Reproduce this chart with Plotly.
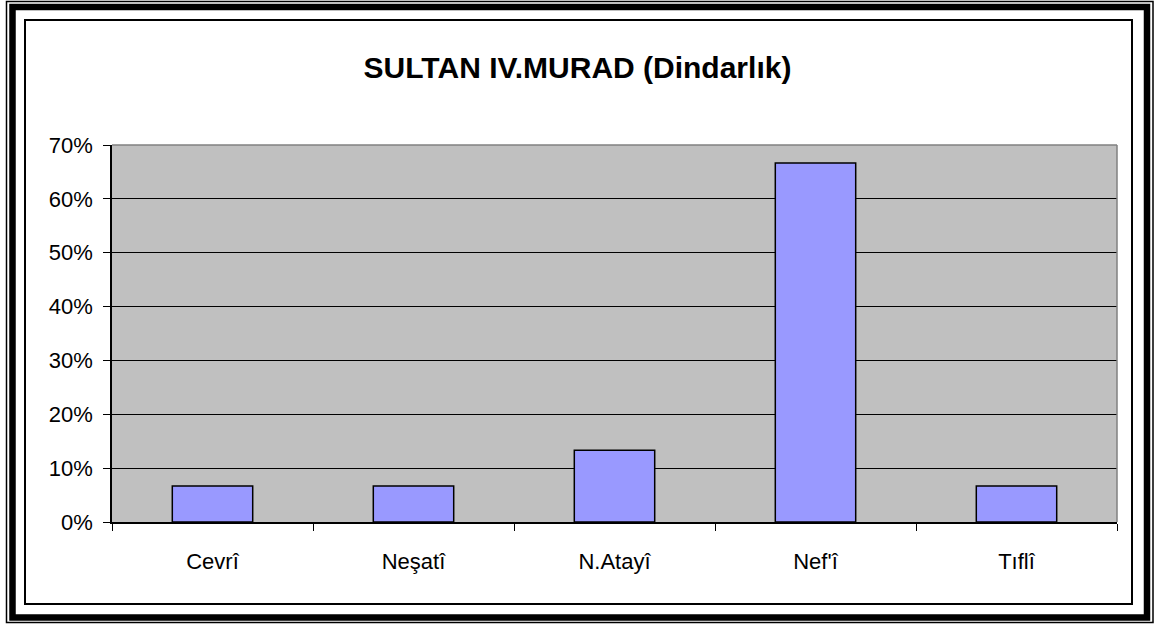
import plotly.graph_objs as go

poets = ["Cevrî", "Neşatî", "N.Atayî", "Nef'î", "Tıflî"]
shares = [0.0667, 0.0667, 0.1333, 0.6667, 0.0667]
y_ticks = [0, 0.1, 0.2, 0.3, 0.4, 0.5, 0.6, 0.7]

W, H = 1155, 626
L, R, T, B = 112, 38, 145, 104
pw, ph = W - L - R, H - T - B


def px(x):
    return (x - L) / pw


def py(y):
    return (H - B - y) / ph


fig = go.Figure()

fig.add_trace(go.Bar(x=poets,
                     y=shares,
                     marker=dict(color="#9999FF",
                                 line=dict(color="black", width=1.5)),
                     hoverinfo="x+y"))

frames = [
    (6.5, 1.5, 1153, 622.5, 1.5),   # outer thin line
    (12.5, 7, 1147, 617.5, 6.5),    # thick band
    (25, 20, 1132, 604, 2),         # inner line
]
shapes = []
for x0, y0, x1, y1, w in frames:
    shapes.append(dict(type="rect", xref="paper", yref="paper",
                       x0=px(x0), x1=px(x1), y0=py(y0), y1=py(y1),
                       line=dict(color="black", width=w)))
# grey plot-area border on top and right
shapes.append(dict(type="line", xref="paper", yref="paper",
                   x0=0, x1=1, y0=1, y1=1,
                   line=dict(color="#808080", width=1.5)))
shapes.append(dict(type="line", xref="paper", yref="paper",
                   x0=1, x1=1, y0=0, y1=1,
                   line=dict(color="#808080", width=1.5)))

fig.update_layout(
    width=W, height=H,
    margin=dict(l=L, r=R, t=T, b=B),
    paper_bgcolor="white",
    plot_bgcolor="#C0C0C0",
    showlegend=False,
    bargap=0.6,
    font=dict(family="Liberation Sans, Arial, sans-serif", size=22, color="black"),
    title=dict(text="<b>SULTAN IV.MURAD (Dindarlık)</b>",
               font=dict(size=30, color="black"),
               xref="container", x=0.5, xanchor="center",
               yref="container", y=1 - 67 / H, yanchor="middle"),
    xaxis=dict(type="category",
               tickson="boundaries",
               ticks="outside", ticklen=7, tickcolor="black", tickwidth=1,
               showline=True, linecolor="black", linewidth=1.5,
               showgrid=False,
               ticklabelstandoff=19),
    yaxis=dict(range=[0, 0.7],
               tickvals=y_ticks,
               tickformat=".0%",
               ticks="outside", ticklen=7, tickcolor="black", tickwidth=1,
               showline=True, linecolor="black", linewidth=1.5,
               showgrid=True, gridcolor="black", gridwidth=1,
               zeroline=False,
               ticklabelstandoff=6),
    shapes=shapes)

# drop the browser's default page margin so the frame sits at the window edge
fig.write_html("out.html",
               config={"displayModeBar": False},
               post_script="document.body.style.margin='0';"
                           "document.body.style.overflow='hidden';")
